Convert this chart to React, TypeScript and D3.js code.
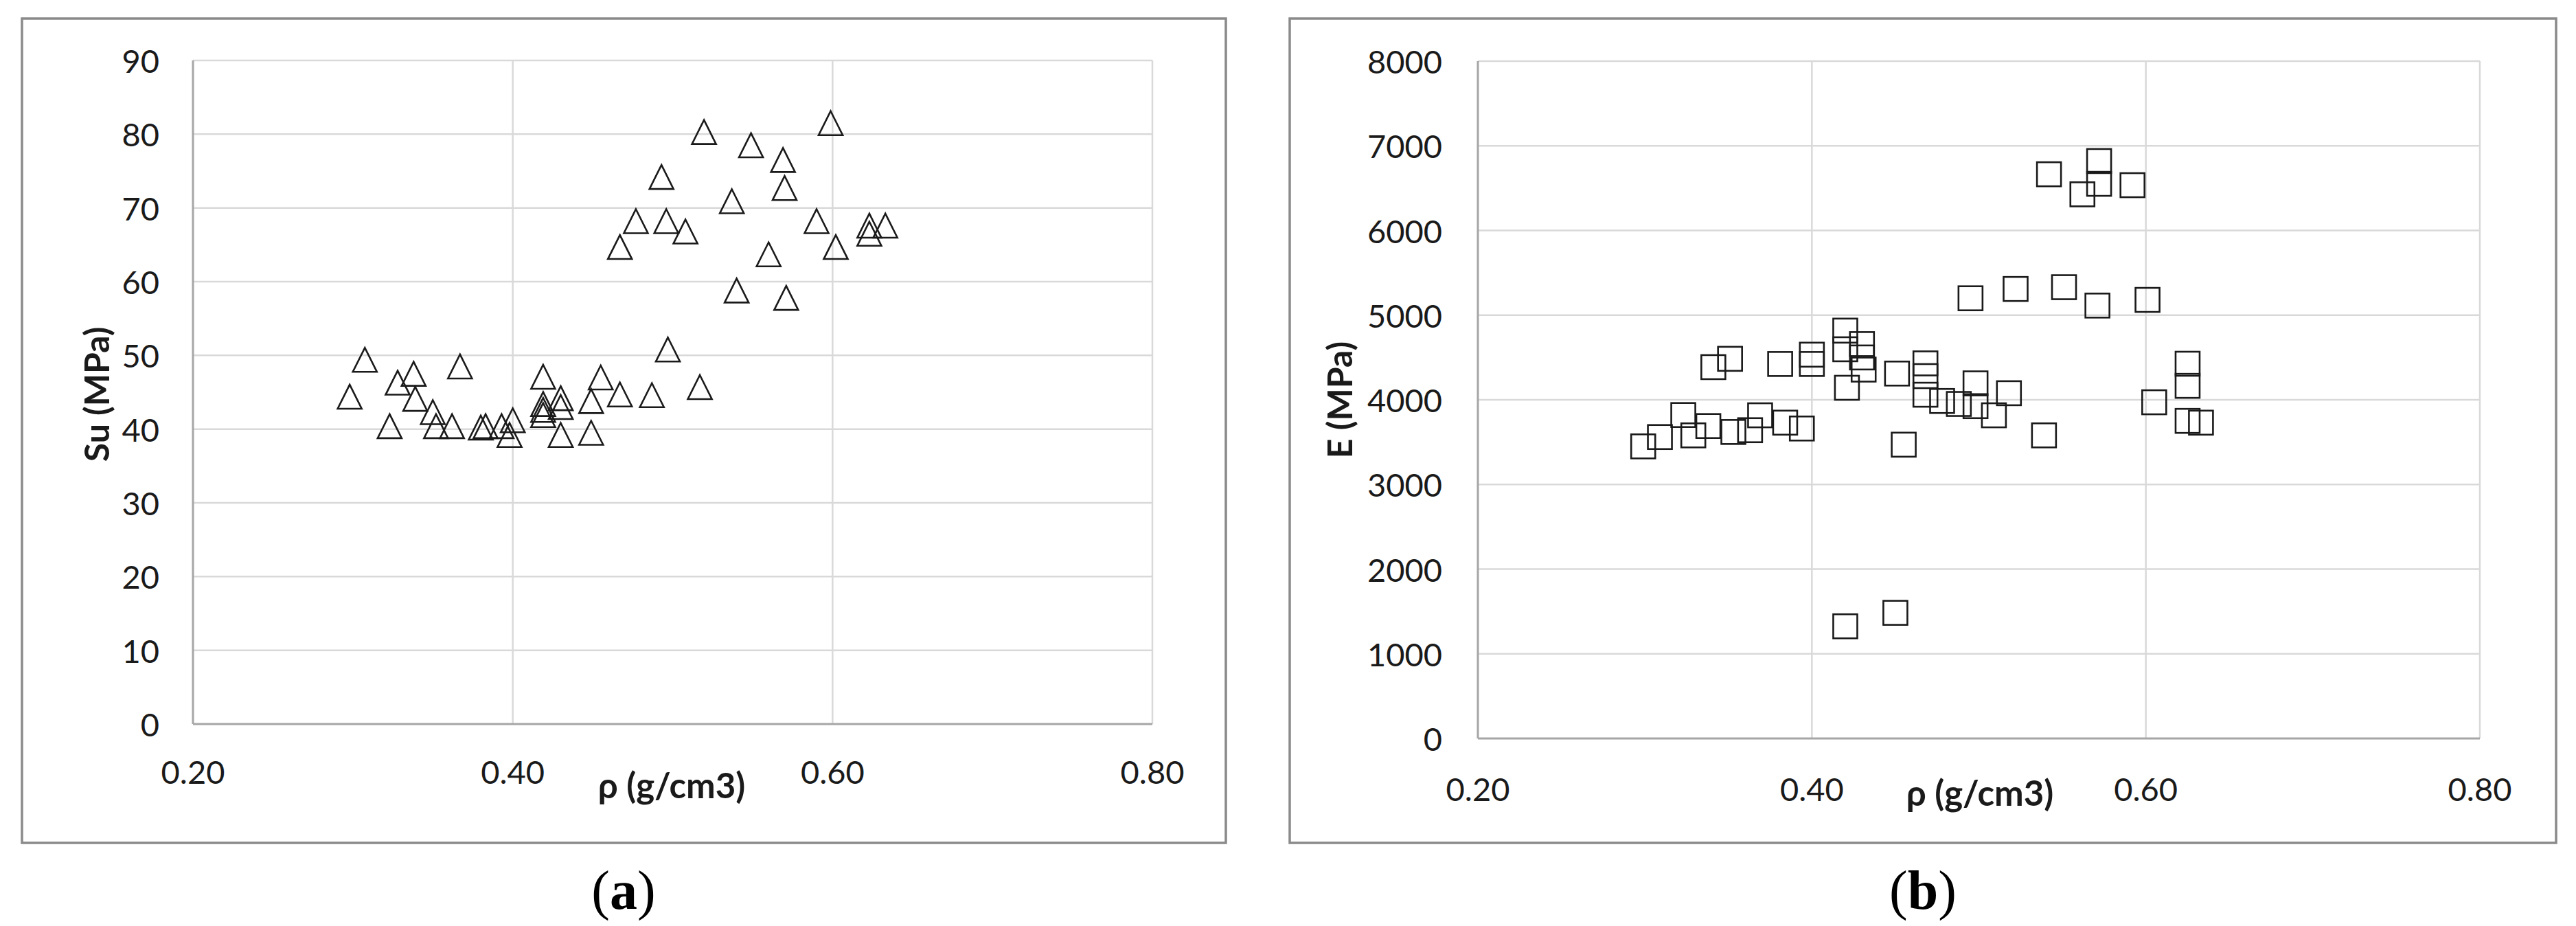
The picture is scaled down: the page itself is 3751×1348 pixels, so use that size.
import React from "react";
import * as d3 from "d3";

// ---------- data ----------
const xTicks = [0.2, 0.4, 0.6, 0.8];
const suTicks = [0, 10, 20, 30, 40, 50, 60, 70, 80, 90];
const eTicks = [0, 1000, 2000, 3000, 4000, 5000, 6000, 7000, 8000];

// (a) Su vs density
const suDensity = [
  0.5196, 0.5988, 0.549, 0.569, 0.493, 0.57, 0.537, 0.477, 0.496, 0.508, 0.467, 0.59, 0.623, 0.633, 0.623, 0.602, 0.56, 0.54, 0.571,
  0.298, 0.3075, 0.323, 0.328, 0.338, 0.339, 0.35, 0.352, 0.362, 0.367, 0.38, 0.383, 0.393, 0.4, 0.398, 0.419, 0.419, 0.419, 0.419,
  0.43, 0.43, 0.43, 0.449, 0.449, 0.455, 0.467, 0.487, 0.497, 0.517,
];
const suValues = [
  80.3, 81.5, 78.5, 76.5, 74.2, 72.7, 70.9, 68.2, 68.2, 66.8, 64.7, 68.2, 67.6, 67.6, 66.5, 64.7, 63.7, 58.8, 57.8,
  44.4, 49.4, 40.4, 46.3, 47.5, 44.1, 42.3, 40.4, 40.4, 48.5, 40.2, 40.4, 40.4, 41.2, 39.2, 47.1, 43.4, 42.6, 41.9,
  44.2, 43.0, 39.2, 43.8, 39.5, 47.0, 44.7, 44.6, 50.8, 45.7,
];

// (b) E vs density
const eDensity = [
  0.299, 0.309, 0.323, 0.329, 0.338, 0.341, 0.351, 0.353, 0.363, 0.369, 0.381, 0.384, 0.394, 0.4, 0.4, 0.42, 0.42, 0.421, 0.43,
  0.431, 0.43, 0.42, 0.45, 0.451, 0.455, 0.468, 0.468, 0.468, 0.478, 0.488, 0.498, 0.498, 0.509, 0.518, 0.539, 0.542, 0.572,
  0.572, 0.562, 0.592, 0.495, 0.522, 0.551, 0.571, 0.601, 0.605, 0.625, 0.625, 0.625, 0.633,
];
const eValues = [
  3450, 3560, 3820, 3580, 3690, 4386, 4484, 3620, 3641, 3817, 4423, 3730, 3661, 4533, 4423, 4817, 4597, 4142, 4658,
  4357, 4500, 1325, 1484, 4310, 3470, 4430, 4280, 4060, 3986, 3951, 4194, 3925, 3817, 4078, 3580, 6664, 6820,
  6551, 6427, 6535, 5199, 5309, 5330, 5113, 5180, 3971, 4426, 4165, 3751, 3730,
];

const FONT = "Lato, 'Open Sans', sans-serif";
const SERIF = "'Liberation Serif', 'DejaVu Serif', serif";

type PanelProps = {
  frame: { x: number; y: number; w: number; h: number };
  plot: { left: number; right: number; top: number; bottom: number };
  yTicks: number[];
  xs: number[];
  ys: number[];
  marker: "triangle" | "square";
  yLabelX: number;
  xLabelY: number;
  yTitle: string;
  yTitlePos: [number, number];
  xTitlePos: [number, number];
  caption: string;
  captionPos: [number, number];
  yFmt: (v: number) => string;
};

function Panel(p: PanelProps) {
  const x = d3.scaleLinear().domain([0.2, 0.8]).range([p.plot.left, p.plot.right]);
  const yMax = p.yTicks[p.yTicks.length - 1];
  const y = d3.scaleLinear().domain([0, yMax]).range([p.plot.bottom, p.plot.top]);
  const ms = 35;
  const tri = d3.line()([
    [0, -ms / 2],
    [ms / 2, ms / 2],
    [-ms / 2, ms / 2],
  ]) + "Z";
  return (
    <g>
      <rect x={p.frame.x} y={p.frame.y} width={p.frame.w} height={p.frame.h} fill="#fff" stroke="#8a8a8a" strokeWidth={3.5} />
      {/* horizontal gridlines */}
      {p.yTicks.filter((t) => t > 0).map((t) => (
        <line key={"h" + t} x1={p.plot.left} x2={p.plot.right} y1={y(t)} y2={y(t)} stroke="#d9d9d9" strokeWidth={2.5} />
      ))}
      {/* vertical gridlines */}
      {xTicks.filter((t) => t > 0.2).map((t) => (
        <line key={"v" + t} x1={x(t)} x2={x(t)} y1={p.plot.top} y2={p.plot.bottom} stroke="#d9d9d9" strokeWidth={2.5} />
      ))}
      {/* axes */}
      <line x1={p.plot.left} x2={p.plot.left} y1={p.plot.top} y2={p.plot.bottom} stroke="#a6a6a6" strokeWidth={3} />
      <line x1={p.plot.left} x2={p.plot.right} y1={p.plot.bottom} y2={p.plot.bottom} stroke="#a6a6a6" strokeWidth={3} />
      {/* y tick labels */}
      {p.yTicks.map((t) => (
        <text key={"yl" + t} x={p.yLabelX} y={y(t)} textAnchor="end" dominantBaseline="central" fontFamily={FONT} fontSize={47} fill="#1a1a1a">
          {p.yFmt(t)}
        </text>
      ))}
      {/* x tick labels */}
      {xTicks.map((t) => (
        <text key={"xl" + t} x={x(t)} y={p.xLabelY} textAnchor="middle" dominantBaseline="central" fontFamily={FONT} fontSize={47} fill="#1a1a1a">
          {d3.format(".2f")(t)}
        </text>
      ))}
      {/* markers */}
      {p.xs.map((v, i) =>
        p.marker === "triangle" ? (
          <path key={"m" + i} d={tri} transform={`translate(${x(v)},${y(p.ys[i])})`} fill="none" stroke="#1a1a1a" strokeWidth={2.6} />
        ) : (
          <rect key={"m" + i} x={x(v) - ms / 2} y={y(p.ys[i]) - ms / 2} width={ms} height={ms} fill="none" stroke="#1a1a1a" strokeWidth={2.6} />
        )
      )}
      {/* titles */}
      <text x={p.xTitlePos[0]} y={p.xTitlePos[1]} textAnchor="middle" dominantBaseline="central" fontFamily={FONT} fontWeight="bold" fontSize={51} fill="#1a1a1a">
        ρ (g/cm3)
      </text>
      <text
        transform={`translate(${p.yTitlePos[0]},${p.yTitlePos[1]}) rotate(-90)`}
        textAnchor="middle"
        dominantBaseline="central"
        fontFamily={FONT}
        fontWeight="bold"
        fontSize={50}
        fill="#1a1a1a"
      >
        {p.yTitle}
      </text>
      <text x={p.captionPos[0]} y={p.captionPos[1]} textAnchor="middle" dominantBaseline="central" fontFamily={SERIF} fontSize={80} fill="#000">
        (<tspan fontWeight="bold">{p.caption}</tspan>)
      </text>
    </g>
  );
}

export default function App() {
  return (
    <svg width={3751} height={1348} style={{ position: "absolute", left: 0, top: 0, background: "#fff" }}>
      <rect x={0} y={0} width={3751} height={1348} fill="#fff" />
      <Panel
        frame={{ x: 32, y: 27, w: 1753, h: 1200 }}
        plot={{ left: 281, right: 1678, top: 88, bottom: 1054 }}
        yTicks={suTicks}
        xs={suDensity}
        ys={suValues}
        marker="triangle"
        yLabelX={232}
        xLabelY={1123}
        yTitle="Su (MPa)"
        yTitlePos={[140, 574]}
        xTitlePos={[978, 1142]}
        caption="a"
        captionPos={[908, 1296]}
        yFmt={(v) => String(v)}
      />
      <Panel
        frame={{ x: 1878, y: 27, w: 1844, h: 1200 }}
        plot={{ left: 2152, right: 3611, top: 89, bottom: 1075 }}
        yTicks={eTicks}
        xs={eDensity}
        ys={eValues}
        marker="square"
        yLabelX={2100}
        xLabelY={1148}
        yTitle="E (MPa)"
        yTitlePos={[1950, 582]}
        xTitlePos={[2883, 1153]}
        caption="b"
        captionPos={[2800, 1296]}
        yFmt={(v) => String(v)}
      />
    </svg>
  );
}
